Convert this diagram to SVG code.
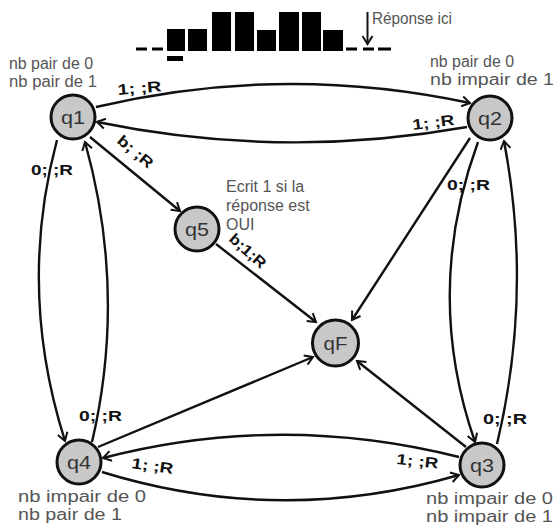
<svg xmlns="http://www.w3.org/2000/svg" width="558" height="529" viewBox="0 0 558 529">
<style>
.node circle{fill:#c8c8c8;stroke:#111;stroke-width:3}
.node text{font-family:"Liberation Sans",Arial,sans-serif;font-size:18px;fill:#333;text-anchor:middle}
.edge{fill:none;stroke:#111;stroke-width:2.4}
.lbl{font-family:"Liberation Sans",Arial,sans-serif;font-size:15px;font-weight:bold;fill:#111}
.note{font-family:"Liberation Sans",Arial,sans-serif;font-size:16px;fill:#555}
.bar{fill:#000}
</style>
<defs>
<marker id="ah" markerWidth="12" markerHeight="12" refX="10" refY="6" orient="auto" markerUnits="userSpaceOnUse">
<path d="M2,1 L10,6 L2,11" fill="none" stroke="#111" stroke-width="2"/>
</marker>
</defs>
<rect width="558" height="529" fill="#fff"/>
<g id="tape">
<rect class="bar" x="136" y="47.5" width="11" height="3"/>
<rect class="bar" x="152" y="47.5" width="11" height="3"/>
<rect class="bar" x="167" y="29" width="18" height="22"/>
<rect class="bar" x="188" y="29" width="19" height="22"/>
<rect class="bar" x="212" y="12" width="19" height="39"/>
<rect class="bar" x="235" y="12" width="19" height="39"/>
<rect class="bar" x="257" y="30" width="19" height="21"/>
<rect class="bar" x="279" y="12" width="20" height="39"/>
<rect class="bar" x="302" y="12" width="19" height="39"/>
<rect class="bar" x="323" y="30" width="20" height="21"/>
<rect class="bar" x="346" y="47.5" width="11" height="3"/>
<rect class="bar" x="363" y="47.5" width="11" height="3"/>
<rect class="bar" x="378" y="47.5" width="13" height="3"/>
<rect class="bar" x="167" y="56" width="16" height="5"/>
<line x1="367.5" y1="12" x2="367.5" y2="44" stroke="#111" stroke-width="2" marker-end="url(#ah)"/>
<text class="note" x="372" y="24" textLength="80" lengthAdjust="spacingAndGlyphs">Réponse ici</text>
</g>
<g id="connectors">
<path class="edge" d="M96,107 Q283,63 470,103" marker-end="url(#ah)"/>
<path class="edge" d="M467,127 Q282,160 97,122" marker-end="url(#ah)"/>
<path class="edge" d="M57,140 Q17,290 65,441" marker-end="url(#ah)"/>
<path class="edge" d="M92,442 Q127,292 85,142" marker-end="url(#ah)"/>
<path class="edge" d="M478,142 Q423,292 475,442" marker-end="url(#ah)"/>
<path class="edge" d="M497,444 Q533,293 504,141" marker-end="url(#ah)"/>
<path class="edge" d="M102,472 Q280,527 459,475" marker-end="url(#ah)"/>
<path class="edge" d="M459,457 Q280,412 103,458" marker-end="url(#ah)"/>
<path class="edge" d="M90,137 L180,211" marker-end="url(#ah)"/>
<path class="edge" d="M216,244 L316,322" marker-end="url(#ah)"/>
<path class="edge" d="M470,138 L352,320" marker-end="url(#ah)"/>
<path class="edge" d="M466,447 L357,361" marker-end="url(#ah)"/>
<path class="edge" d="M98,447 L313,357" marker-end="url(#ah)"/>
<text class="lbl" transform="translate(118,95) rotate(-5)" textLength="44" lengthAdjust="spacingAndGlyphs">1; ;R</text>
<text class="lbl" transform="translate(413,130) rotate(-7)" textLength="42" lengthAdjust="spacingAndGlyphs">1; ;R</text>
<text class="lbl" x="31" y="175" textLength="42" lengthAdjust="spacingAndGlyphs">0; ;R</text>
<text class="lbl" x="79" y="421" textLength="43" lengthAdjust="spacingAndGlyphs">0; ;R</text>
<text class="lbl" x="447" y="190" textLength="43" lengthAdjust="spacingAndGlyphs">0; ;R</text>
<text class="lbl" x="483" y="424" textLength="44" lengthAdjust="spacingAndGlyphs">0; ;R</text>
<text class="lbl" transform="translate(396,464) rotate(6)" textLength="42" lengthAdjust="spacingAndGlyphs">1; ;R</text>
<text class="lbl" transform="translate(131,468) rotate(8)" textLength="42" lengthAdjust="spacingAndGlyphs">1; ;R</text>
<text class="lbl" transform="translate(116,142) rotate(40)" textLength="42" lengthAdjust="spacingAndGlyphs">b; ;R</text>
<text class="lbl" transform="translate(228,240) rotate(42)" textLength="44" lengthAdjust="spacingAndGlyphs">b;1;R</text>
</g>
<g id="q1" class="node"><circle cx="73" cy="117" r="22"/><text x="73" y="124" textLength="24" lengthAdjust="spacingAndGlyphs">q1</text></g>
<g id="q2" class="node"><circle cx="490" cy="118" r="22"/><text x="490" y="125" textLength="24" lengthAdjust="spacingAndGlyphs">q2</text></g>
<g id="q5" class="node"><circle cx="197" cy="229" r="22"/><text x="197" y="236" textLength="24" lengthAdjust="spacingAndGlyphs">q5</text></g>
<g id="qF" class="node"><circle cx="335.5" cy="343" r="23"/><text x="335.5" y="350" textLength="24" lengthAdjust="spacingAndGlyphs">qF</text></g>
<g id="q4" class="node"><circle cx="79" cy="462" r="22"/><text x="79" y="469" textLength="24" lengthAdjust="spacingAndGlyphs">q4</text></g>
<g id="q3" class="node"><circle cx="482" cy="465" r="22"/><text x="482" y="472" textLength="24" lengthAdjust="spacingAndGlyphs">q3</text></g>
<g id="notes">
<text class="note" x="9" y="69" textLength="84" lengthAdjust="spacingAndGlyphs">nb pair de 0</text>
<text class="note" x="9" y="87" textLength="88" lengthAdjust="spacingAndGlyphs">nb pair de 1</text>
<text class="note" x="430" y="67" textLength="84" lengthAdjust="spacingAndGlyphs">nb pair de 0</text>
<text class="note" x="430" y="85" textLength="124" lengthAdjust="spacingAndGlyphs">nb impair de 1</text>
<text class="note" x="18" y="502" textLength="128" lengthAdjust="spacingAndGlyphs">nb impair de 0</text>
<text class="note" x="18" y="520" textLength="104" lengthAdjust="spacingAndGlyphs">nb pair de 1</text>
<text class="note" x="426" y="504" textLength="127" lengthAdjust="spacingAndGlyphs">nb impair de 0</text>
<text class="note" x="426" y="522" textLength="127" lengthAdjust="spacingAndGlyphs">nb impair de 1</text>
<text class="note" x="226" y="192">Ecrit 1 si la</text>
<text class="note" x="226" y="211">réponse est</text>
<text class="note" x="226" y="230">OUI</text>
</g>
</svg>
